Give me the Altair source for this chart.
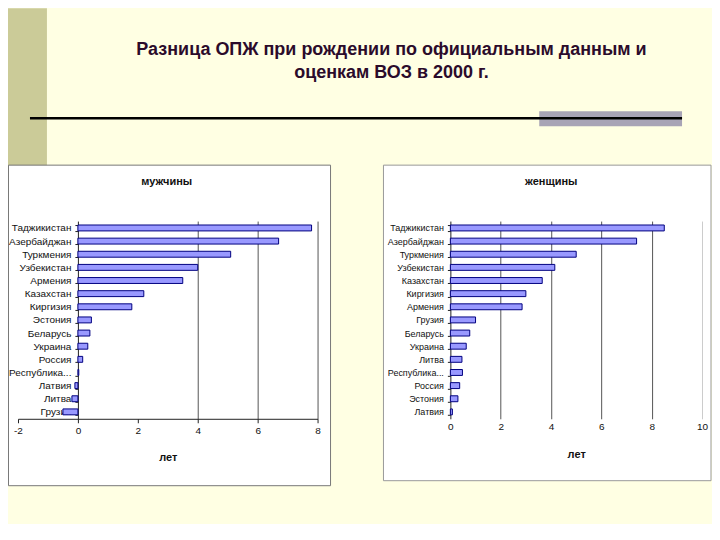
import altair as alt
import pandas as pd

# ---- data ----
men_countries = ["Таджикистан", "Азербайджан", "Туркмения", "Узбекистан", "Армения",
                 "Казахстан", "Киргизия", "Эстония", "Беларусь", "Украина", "Россия",
                 "Республика...", "Латвия", "Литва", "Грузия"]
men_values = [7.8, 6.7, 5.1, 4.0, 3.5, 2.2, 1.8, 0.45, 0.4, 0.33, 0.16, 0.03, -0.1, -0.2, -0.5]

women_countries = ["Таджикистан", "Азербайджан", "Туркмения", "Узбекистан", "Казахстан",
                   "Киргизия", "Армения", "Грузия", "Беларусь", "Украина", "Литва",
                   "Республика...", "Россия", "Эстония", "Латвия"]
women_values = [8.5, 7.4, 5.0, 4.15, 3.65, 3.0, 2.85, 1.0, 0.77, 0.63, 0.46, 0.48, 0.37, 0.3, 0.08]

men_ticks = [-2, 0, 2, 4, 6, 8]
women_ticks = [0, 2, 4, 6, 8, 10]

title_lines = ["Разница ОПЖ при рождении по официальным данным и", "оценкам ВОЗ в 2000 г."]
men_title = "мужчины"
women_title = "женщины"
axis_title = "лет"

FONT = "Liberation Sans"
one = pd.DataFrame({"a": [0]})


def rect(x, x2, y, y2, **kw):
    return alt.Chart(one).mark_rect(**kw).encode(
        x=alt.value(x), x2=alt.value(x2), y=alt.value(y), y2=alt.value(y2))


def text(s, x, y, **kw):
    return alt.Chart(one).mark_text(text=s, align="center", baseline="middle", font=FONT, **kw).encode(
        x=alt.value(x), y=alt.value(y))


header = alt.layer(
    rect(0, 704, 0, 516, fill="#FFFFE3"),
    rect(0, 39, 0, 382, fill="#CBCB98"),
    rect(0.5, 323, 157, 478, fill="white", stroke="#777777", strokeWidth=1),
    rect(376, 704, 157, 473, fill="white", stroke="#999999", strokeWidth=1),
    rect(532, 675, 103, 118, fill="#A8A4B6"),
    alt.Chart(one).mark_rule(color="black", strokeWidth=2.5).encode(
        x=alt.value(22), x2=alt.value(675), y=alt.value(110)),
    text(title_lines[0], 384, 42, fontSize=18, fontWeight="bold", color="#2B0B2B"),
    text(title_lines[1], 384, 65, fontSize=18, fontWeight="bold", color="#2B0B2B"),
    text(men_title, 159, 174, fontSize=11, fontWeight="bold", color="#111111"),
    text(women_title, 544, 174, fontSize=11, fontWeight="bold", color="#111111"),
).properties(width=704, height=213)


def spacer(w):
    return alt.Chart(one).mark_text(text="").encode(
        x=alt.value(0), y=alt.value(0)).properties(width=w, height=198)


def panel(countries, values, domain, ticks, width, yoffset, grid_opacity, grid_color,
          x_domain, label_size):
    df = pd.DataFrame({"country": countries, "value": values})
    return alt.Chart(df).mark_bar(fill="#9999FF", stroke="#000080", strokeWidth=1).encode(
        x=alt.X("value:Q",
                scale=alt.Scale(domain=domain, nice=False, zero=False),
                axis=alt.Axis(values=ticks, title=axis_title, grid=True,
                              gridColor=grid_color, gridOpacity=grid_opacity, gridWidth=1,
                              domain=x_domain, domainColor="#222222", ticks=x_domain,
                              tickColor="#222222", tickSize=4 if x_domain else 0,
                              labelFlush=False, labelExpr="'' + datum.value",
                              labelFontSize=10, labelColor="#111111",
                              labelPadding=3,
                              titleFontSize=11, titleFontWeight="bold", titleColor="#111111",
                              titlePadding=16 if x_domain else 17)),
        y=alt.Y("country:N", sort=countries,
                scale=alt.Scale(paddingInner=0.55, paddingOuter=0.3),
                axis=alt.Axis(title=None, offset=yoffset, domainColor="#222222",
                              tickColor="#222222", tickSize=3, tickBand="extent",
                              labelFontSize=label_size, labelColor="#111111",
                              labelPadding=4, grid=False)),
    ).properties(width=width, height=198)


men = panel(men_countries, men_values, [-2, 8], men_ticks, 300, -60,
            {"condition": {"test": "datum.value >= 4", "value": 1}, "value": 0},
            "#555555", True, 10)
women = panel(women_countries, women_values, [0, 10], women_ticks, 252, 0,
              {"condition": {"test": "datum.value > 0", "value": 1}, "value": 0},
              {"condition": {"test": "datum.value == 10", "value": "#CCCCCC"}, "value": "#555555"},
              False, 9)

row = alt.hconcat(spacer(10), men, spacer(133), women, spacing=0, bounds="flush")

chart = alt.vconcat(header, row, spacing=0, bounds="flush").properties(
    padding=0
).configure(
    background="#FFFFE3", font=FONT
).configure_view(stroke=None)

chart.save("out.html", embed_options={"renderer": "svg", "actions": False})
